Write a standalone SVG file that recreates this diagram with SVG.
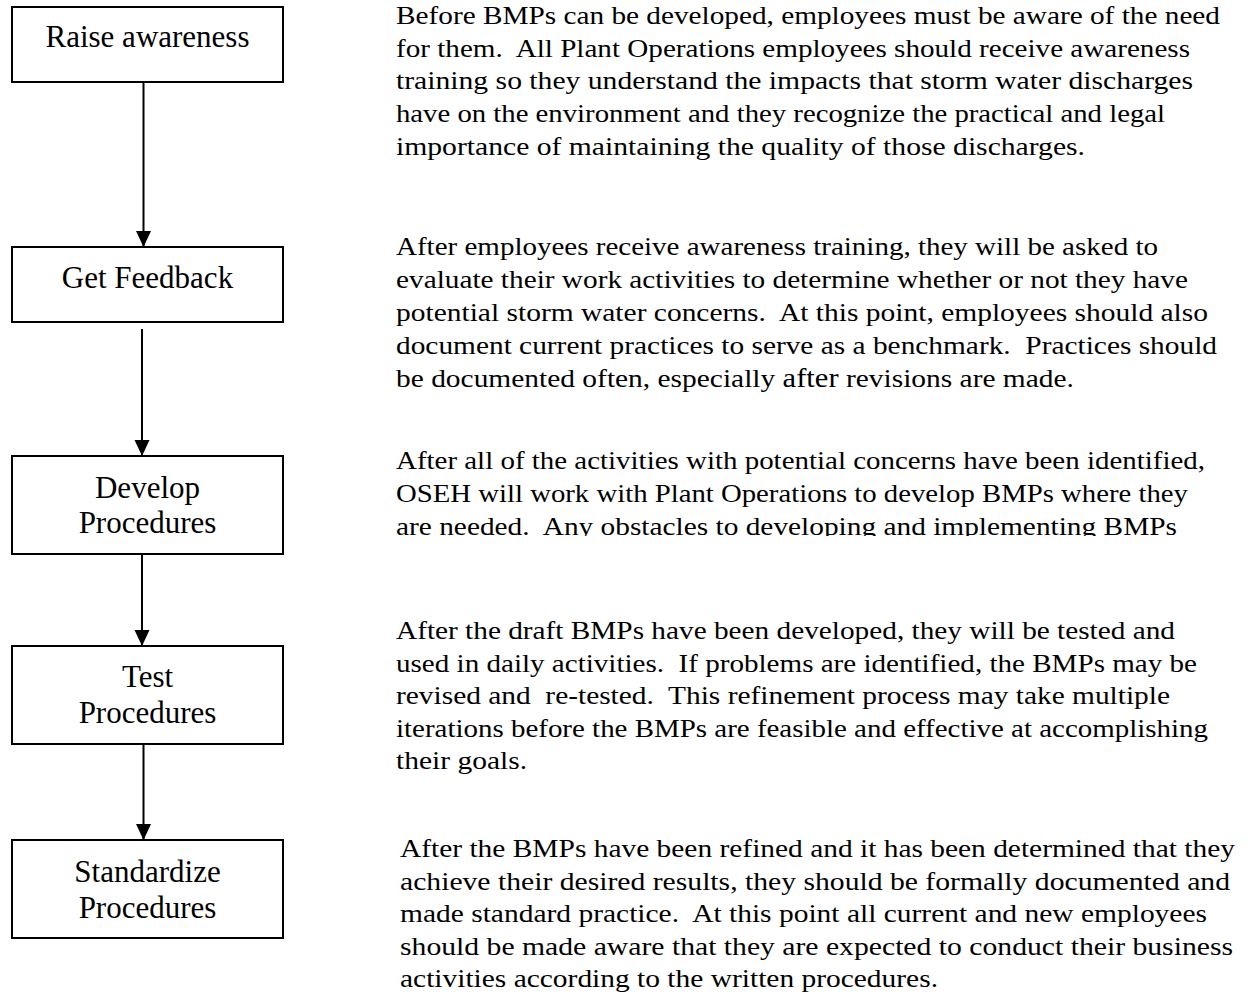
<svg xmlns="http://www.w3.org/2000/svg" width="1248" height="997" viewBox="0 0 1248 997" xml:space="preserve">
<defs>
<style>
.box{fill:#fff;stroke:#000;stroke-width:2}
.lbl{font-family:"Liberation Serif","Times New Roman",serif;font-size:31px;fill:#000;text-anchor:middle}
.para{font-family:"Liberation Serif","Times New Roman",serif;font-size:26px;fill:#000;white-space:pre}
.conn{stroke:#000;stroke-width:2;fill:none}
</style>
<marker id="arrow" markerUnits="userSpaceOnUse" markerWidth="16" markerHeight="16" viewBox="0 0 16 16" refX="16" refY="7.5" orient="auto">
<path d="M0,0 L16,7.5 L0,15 Z" fill="#000"/>
</marker>
<clipPath id="clip3"><rect x="380" y="440" width="868" height="96"/></clipPath>
</defs>
<rect width="1248" height="997" fill="#fff"/>

<g id="connectors">
<line class="conn" x1="143.5" y1="82" x2="143.5" y2="247" marker-end="url(#arrow)"/>
<line class="conn" x1="142" y1="329" x2="142" y2="456" marker-end="url(#arrow)"/>
<line class="conn" x1="142" y1="554" x2="142" y2="646" marker-end="url(#arrow)"/>
<line class="conn" x1="143.5" y1="744" x2="143.5" y2="840" marker-end="url(#arrow)"/>
</g>

<g id="node-raise">
<rect class="box" x="12" y="7" width="271" height="75"/>
<text class="lbl" x="147.5" y="47">Raise awareness</text>
</g>
<g id="node-feedback">
<rect class="box" x="12" y="247" width="271" height="75"/>
<text class="lbl" x="147.5" y="288">Get Feedback</text>
</g>
<g id="node-develop">
<rect class="box" x="12" y="456" width="271" height="98"/>
<text class="lbl" x="147.5" y="498">Develop</text>
<text class="lbl" x="147.5" y="533">Procedures</text>
</g>
<g id="node-test">
<rect class="box" x="12" y="646" width="271" height="98"/>
<text class="lbl" x="147.5" y="687">Test</text>
<text class="lbl" x="147.5" y="723">Procedures</text>
</g>
<g id="node-standardize">
<rect class="box" x="12" y="840" width="271" height="98"/>
<text class="lbl" x="147.5" y="882">Standardize</text>
<text class="lbl" x="147.5" y="918">Procedures</text>
</g>

<g id="desc-raise">
<text class="para" x="396" y="24" textLength="824" lengthAdjust="spacingAndGlyphs">Before BMPs can be developed, employees must be aware of the need</text>
<text class="para" x="396" y="56.5" textLength="794" lengthAdjust="spacingAndGlyphs">for them.  All Plant Operations employees should receive awareness</text>
<text class="para" x="396" y="89" textLength="797" lengthAdjust="spacingAndGlyphs">training so they understand the impacts that storm water discharges</text>
<text class="para" x="396" y="122" textLength="769" lengthAdjust="spacingAndGlyphs">have on the environment and they recognize the practical and legal</text>
<text class="para" x="396" y="154.5" textLength="689" lengthAdjust="spacingAndGlyphs">importance of maintaining the quality of those discharges.</text>
</g>

<g id="desc-feedback">
<text class="para" x="396" y="255" textLength="762" lengthAdjust="spacingAndGlyphs">After employees receive awareness training, they will be asked to</text>
<text class="para" x="396" y="288" textLength="792" lengthAdjust="spacingAndGlyphs">evaluate their work activities to determine whether or not they have</text>
<text class="para" x="396" y="321" textLength="812" lengthAdjust="spacingAndGlyphs">potential storm water concerns.  At this point, employees should also</text>
<text class="para" x="396" y="354" textLength="821" lengthAdjust="spacingAndGlyphs">document current practices to serve as a benchmark.  Practices should</text>
<text class="para" x="396" y="387" textLength="678" lengthAdjust="spacingAndGlyphs">be documented often, especially <tspan font-size="27">after</tspan> revisions are made.</text>
</g>

<g id="desc-develop" clip-path="url(#clip3)">
<text class="para" x="396" y="469" textLength="809" lengthAdjust="spacingAndGlyphs">After all of the activities with potential concerns have been identified,</text>
<text class="para" x="396" y="502" textLength="792" lengthAdjust="spacingAndGlyphs">OSEH will work with Plant Operations to develop BMPs where they</text>
<text class="para" x="396" y="535" textLength="781" lengthAdjust="spacingAndGlyphs">are needed.  Any obstacles to developing and implementing BMPs</text>
</g>

<g id="desc-test">
<text class="para" x="396" y="639" textLength="779" lengthAdjust="spacingAndGlyphs">After the draft BMPs have been developed, they will be tested and</text>
<text class="para" x="396" y="672" textLength="801" lengthAdjust="spacingAndGlyphs">used in daily activities.  If problems are identified, the BMPs may be</text>
<text class="para" x="396" y="704" textLength="774" lengthAdjust="spacingAndGlyphs">revised and  re-tested.  This refinement process may take multiple</text>
<text class="para" x="396" y="737" textLength="812" lengthAdjust="spacingAndGlyphs">iterations before the BMPs are feasible and effective at accomplishing</text>
<text class="para" x="396" y="769" textLength="131" lengthAdjust="spacingAndGlyphs">their goals.</text>
</g>

<g id="desc-standardize">
<text class="para" x="400" y="857" textLength="835" lengthAdjust="spacingAndGlyphs">After the BMPs have been refined and it has been determined that they</text>
<text class="para" x="400" y="890" textLength="830" lengthAdjust="spacingAndGlyphs">achieve their desired results, they should be formally documented and</text>
<text class="para" x="400" y="922" textLength="807" lengthAdjust="spacingAndGlyphs">made standard practice.  At this point all current and new employees</text>
<text class="para" x="400" y="955" textLength="833" lengthAdjust="spacingAndGlyphs">should be made aware that they are expected to conduct their business</text>
<text class="para" x="400" y="987" textLength="538" lengthAdjust="spacingAndGlyphs">activities according to the written procedures.</text>
</g>
</svg>
